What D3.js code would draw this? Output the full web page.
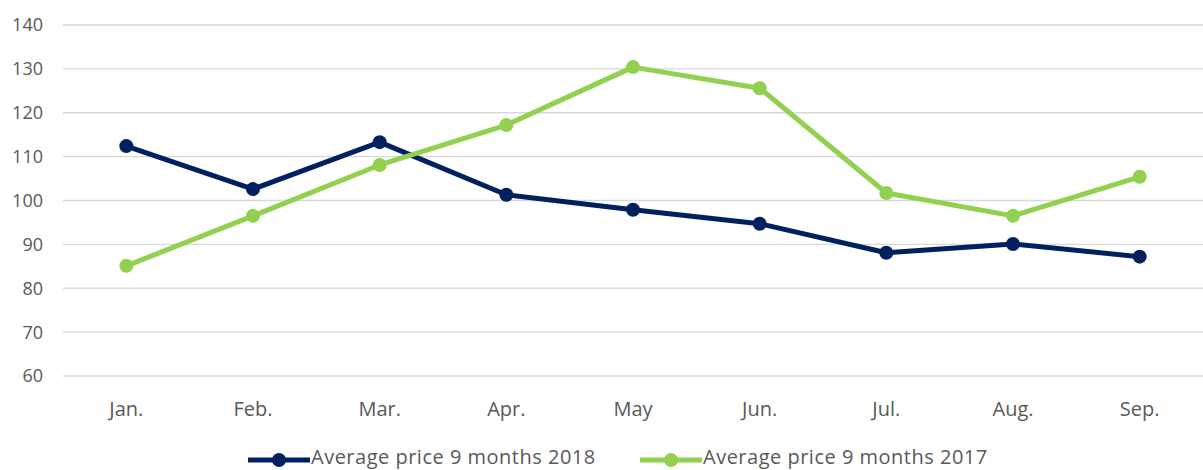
<!DOCTYPE html>
<html>
<head>
<meta charset="utf-8">
<script src="https://cdn.jsdelivr.net/npm/d3@7"></script>
<style>
  body { margin: 0; background: #fff; overflow: hidden; }
  svg text { font-family: "Open Sans", "Noto Sans", sans-serif; fill: #595959; }
</style>
</head>
<body>
<div id="container"></div>
<script>
// categories and series
var months = ["Jan.", "Feb.", "Mar.", "Apr.", "May", "Jun.", "Jul.", "Aug.", "Sep."];
var price2018 = [112.4, 102.6, 113.3, 101.3, 97.9, 94.7, 88.1, 90.1, 87.2];
var price2017 = [85.1, 96.5, 108.1, 117.2, 130.4, 125.6, 101.7, 96.5, 105.4];
var yTicks = [60, 70, 80, 90, 100, 110, 120, 130, 140];
var seriesNames = ["Average price 9 months 2018", "Average price 9 months 2017"];

var width = 1203;
var height = 470;
var margin = { top: 25, right: 0, bottom: 94, left: 63 };

var svg = d3.select("#container")
    .append("svg")
    .attr("width", width)
    .attr("height", height)
    .style("display", "block");

var x = d3.scaleBand()
    .domain(months)
    .range([margin.left, width - margin.right]);

var y = d3.scaleLinear()
    .domain([60, 140])
    .range([height - margin.bottom, margin.top]);

// gridlines
svg.append("g")
    .selectAll("line")
    .data(yTicks)
    .enter()
    .append("line")
    .attr("x1", margin.left)
    .attr("x2", width - margin.right)
    .attr("y1", d => y(d))
    .attr("y2", d => y(d))
    .attr("stroke", "#d9d9d9")
    .attr("stroke-width", 1.3);

// y labels
svg.append("g")
    .selectAll("text")
    .data(yTicks)
    .enter()
    .append("text")
    .attr("x", 43)
    .attr("y", d => y(d))
    .attr("dy", "0.36em")
    .attr("text-anchor", "end")
    .style("font-size", "18px")
    .text(d => d);

// x labels
svg.append("g")
    .selectAll("text")
    .data(months)
    .enter()
    .append("text")
    .attr("x", d => x(d) + x.bandwidth() / 2)
    .attr("y", 416)
    .attr("text-anchor", "middle")
    .style("font-size", "20px")
    .text(d => d);

var line = d3.line()
    .x((d, i) => x(months[i]) + x.bandwidth() / 2)
    .y(d => y(d));

var series = [
    { name: seriesNames[0], values: price2018, color: "#002060" },
    { name: seriesNames[1], values: price2017, color: "#92d050" }
];

series.forEach(function (s) {
    svg.append("path")
        .datum(s.values)
        .attr("d", line)
        .attr("fill", "none")
        .attr("stroke", s.color)
        .attr("stroke-width", 5)
        .attr("stroke-linejoin", "round");
    svg.append("g")
        .selectAll("circle")
        .data(s.values)
        .enter()
        .append("circle")
        .attr("cx", (d, i) => x(months[i]) + x.bandwidth() / 2)
        .attr("cy", d => y(d))
        .attr("r", 7)
        .attr("fill", s.color);
});

// legend
var legendX = [248, 640];
series.forEach(function (s, i) {
    var g = svg.append("g").attr("transform", "translate(" + legendX[i] + ",460)");
    g.append("line")
        .attr("x1", 0).attr("x2", 62)
        .attr("stroke", s.color)
        .attr("stroke-width", 5);
    g.append("circle")
        .attr("cx", 31)
        .attr("r", 7)
        .attr("fill", s.color);
    g.append("text")
        .attr("x", 63)
        .attr("y", 4)
        .style("font-size", "20px")
        .style("letter-spacing", "0.5px")
        .text(s.name);
});
</script>
</body>
</html>
